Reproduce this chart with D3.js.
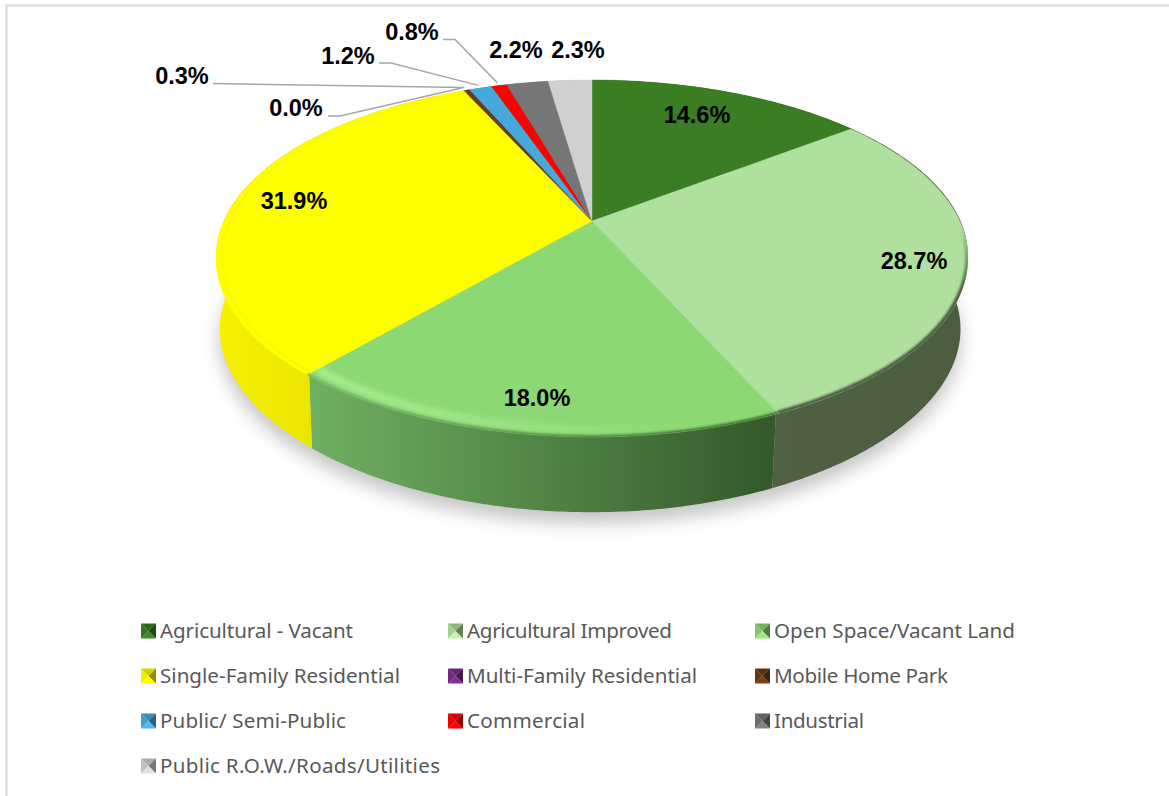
<!DOCTYPE html>
<html><head><meta charset="utf-8">
<script src="https://cdnjs.cloudflare.com/ajax/libs/d3/7.8.5/d3.min.js"></script>
<style>html,body{margin:0;padding:0;background:#fff}svg{display:block}</style>
</head><body><svg id="c" width="1169" height="796"></svg>
<script>
const categories = ["Agricultural - Vacant","Agricultural Improved","Open Space/Vacant Land","Single-Family Residential","Multi-Family Residential","Mobile Home Park","Public/ Semi-Public","Commercial","Industrial","Public R.O.W./Roads/Utilities"];
const values = [14.6,28.7,18.0,31.9,0.0,0.3,1.2,0.8,2.2,2.3];
const topColors = ["#3a7d22","#b0e09e","#8cd874","#ffff00","#7b2a8a","#6b3a14","#45aadb","#ff0000","#767676","#d0d0d0"];
const sideLeft  = ["#2c5f1a","#4f6043","#70b062","#f6f200","#5e2069","#52300f","#35829f","#c00000","#5a5a5a","#a0a0a0"];
const sideRight = ["#2c5f1a","#4b5c3f","#33582a","#d9d200","#5e2069","#52300f","#35829f","#c00000","#5a5a5a","#a0a0a0"];
const labelCenters = [[697,115],[914,261],[537,398],[294,201],[296,108],[182,76],[348,56],[412,32],[516,50],[578,50]];
const leaderPaths = {4:[[328,116],[340,116]],5:[[213,83.5]],6:[[379,63],[391,63]],7:[[443,39.5],[455,39.5]]};
const legendWidths = [193,205,241,240,230,174,186,118,90,280];

const W=1169,H=796;
const svg=d3.select("#c"), defs=svg.append("defs");
svg.append("rect").attr("width",W).attr("height",H).attr("fill","#fff");
svg.append("path").attr("d",`M6.5,${H}V5.5H${W}`).attr("fill","none").attr("stroke","#d9d9d9").attr("stroke-width",2);

// perspective projection of the unit disc: upper face, wall top edge and lower face
const cx=592,cy=221,A=367.6,B=170.6,k=0.21;
const proj=(a,s=1)=>{const u=Math.sin(a),v=Math.cos(a),w=1+k*v;return [cx+s*A*u/w,cy-s*B*v/w];};
const projWall=(a)=>{const u=Math.sin(a),v=Math.cos(a),w=1+0.199*v;return [cx+368.5*u/w,cy-169*v/w];};
const projLow=(a)=>{const u=Math.sin(a),v=Math.cos(a),w=1+0.199*v,w2=1+0.23*v,s=u<0?0.99:0.98;return [cx+s*368.5*u/w,294-168*v/w2];};
const samples=(a0,a1)=>{const n=Math.max(2,Math.ceil((a1-a0)/0.01)+1);return d3.range(n).map(i=>a0+(a1-a0)*i/(n-1));};
const arcPts=(a0,a1,s=1)=>samples(a0,a1).map(a=>proj(a,s));
const wallPts=(a0,a1)=>samples(a0,a1).map(projWall);
const lowPts=(a0,a1)=>samples(a0,a1).map(projLow);
const line=d3.line();
const slices=d3.pie().sort(null).value(d=>d)(values);

const f=(id,sd)=>defs.append("filter").attr("id",id).attr("x","-20%").attr("y","-20%").attr("width","140%").attr("height","140%").append("feGaussianBlur").attr("stdDeviation",sd);
f("blurS",9); f("blurR",3); f("blurE",1.3);
defs.append("clipPath").attr("id","topClip").append("path").attr("d",line(arcPts(0,2*Math.PI))+"Z");

// shadow
svg.append("path").attr("d",line(lowPts(0,2*Math.PI))+"Z").attr("transform","translate(0,11)").attr("fill","#8c8c8c").attr("opacity",0.5).attr("filter","url(#blurS)");

// side walls
const visible=slices.filter(d=>d.value>0);
visible.forEach(d=>{
  const i=d.index, pts=wallPts(d.startAngle,d.endAngle), low=lowPts(d.startAngle,d.endAngle).reverse();
  const xs=pts.map(p=>p[0]);
  const g=defs.append("linearGradient").attr("id","side"+i).attr("gradientUnits","userSpaceOnUse").attr("x1",d3.min(xs)).attr("x2",d3.max(xs)).attr("y1",0).attr("y2",0);
  g.append("stop").attr("offset",0).attr("stop-color",sideLeft[i]);
  g.append("stop").attr("offset",1).attr("stop-color",sideRight[i]);
  svg.append("path").attr("d",line(pts.concat(low))+"Z").attr("fill",`url(#side${i})`);
});

// top surface
visible.forEach(d=>{
  const pts=[[cx,cy],...arcPts(d.startAngle,d.endAngle)];
  svg.append("path").attr("d",line(pts)+"Z").attr("fill",topColors[d.index]).attr("stroke",topColors[d.index]).attr("stroke-width",0.4);
});

// bevel along the rim
const rim=svg.append("g").attr("clip-path","url(#topClip)");
const gGreen=defs.append("linearGradient").attr("id","hiGreen").attr("gradientUnits","userSpaceOnUse").attr("x1",313).attr("x2",700).attr("y1",0).attr("y2",0);
gGreen.append("stop").attr("offset",0).attr("stop-color","#b4f49c");
gGreen.append("stop").attr("offset",0.5).attr("stop-color","#a2e88a");
gGreen.append("stop").attr("offset",1).attr("stop-color","#8cd874");
const gEdge=defs.append("linearGradient").attr("id","edgeGreen").attr("gradientUnits","userSpaceOnUse").attr("x1",313).attr("x2",772).attr("y1",0).attr("y2",0);
gEdge.append("stop").attr("offset",0).attr("stop-color","#7ab86a");
gEdge.append("stop").attr("offset",1).attr("stop-color","#3f6a32");
const gDark=defs.append("linearGradient").attr("id","darkImp").attr("gradientUnits","userSpaceOnUse").attr("x1",0).attr("x2",0).attr("y1",225).attr("y2",290);
gDark.append("stop").attr("offset",0).attr("stop-color","#b0e09e");
gDark.append("stop").attr("offset",1).attr("stop-color","#4b5c3f");
const sl=slices;
rim.append("path").attr("d",line(arcPts(sl[2].startAngle,sl[2].endAngle,0.965))).attr("fill","none").attr("stroke","url(#hiGreen)").attr("stroke-width",6).attr("filter","url(#blurR)");
rim.append("path").attr("d",line(arcPts(sl[2].startAngle,sl[2].endAngle))).attr("fill","none").attr("stroke","url(#edgeGreen)").attr("stroke-width",4).attr("filter","url(#blurE)");
rim.append("path").attr("d",line(arcPts(sl[1].startAngle+0.5,sl[1].endAngle))).attr("fill","none").attr("stroke","url(#darkImp)").attr("stroke-width",6).attr("filter","url(#blurE)");
rim.append("path").attr("d",line(arcPts(sl[3].startAngle,sl[3].endAngle,0.985))).attr("fill","none").attr("stroke","#f8f400").attr("stroke-width",1.5).attr("filter","url(#blurE)");

// leader lines
const mid=d=>(d.startAngle+d.endAngle)/2;
Object.keys(leaderPaths).forEach(key=>{
  const i=+key, end=proj(mid(slices[i]),1.02);
  svg.append("path").attr("d",line([...leaderPaths[key],end])).attr("fill","none").attr("stroke","#a6a6a6").attr("stroke-width",1.5);
});

// data labels
svg.selectAll("text.lab").data(slices).join("text").attr("class","lab")
  .attr("x",d=>labelCenters[d.index][0]).attr("y",d=>labelCenters[d.index][1]+8)
  .attr("text-anchor","middle").attr("font-family","'Liberation Sans',Arial,sans-serif")
  .attr("font-weight","bold").attr("font-size",23.5).attr("fill","#000")
  .text(d=>d.value.toFixed(1)+"%");

// legend
const colX=d3.scalePoint().domain([0,1,2]).range([141,755]);
const rowY=d3.scalePoint().domain([0,1,2,3]).range([631,766]);
categories.forEach((c,i)=>{
  const x=colX(i%3), y=rowY(Math.floor(i/3)), s=15, x0=x, y0=y-7.5;
  const m=[x0+s/2,y0+s/2], cc=d3.color(topColors[i]);
  const tris=[
    [[x0,y0],[x0+s,y0],m, cc.darker(0.55)],
    [[x0,y0],[x0,y0+s],m, cc.darker(0.2)],
    [[x0+s,y0],[x0+s,y0+s],m, cc.darker(1.6)],
    [[x0,y0+s],[x0+s,y0+s],m, cc.brighter(0.25)]
  ];
  tris.forEach(t=>svg.append("path").attr("d",line(t.slice(0,3))+"Z").attr("fill",t[3]));
  svg.append("text").attr("x",x+19).attr("y",y+6.5).attr("font-family","'Noto Sans',sans-serif").attr("font-size",20.6).attr("fill","#595959")
    .attr("textLength",legendWidths[i]).attr("lengthAdjust","spacing").text(c);
});
</script></body></html>
